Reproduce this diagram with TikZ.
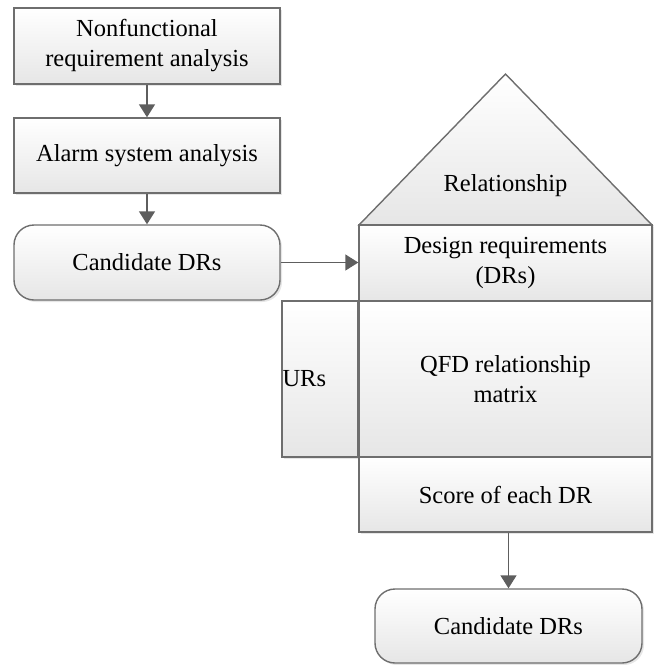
\documentclass[tikz,border=0pt]{standalone}
\usepackage{fontspec}
\setmainfont{Liberation Serif}
\usetikzlibrary{arrows.meta,shadows}
\definecolor{edge}{HTML}{6E6E6E}
\definecolor{arrowc}{HTML}{5E5E5E}
\definecolor{fillbot}{HTML}{E6E6E6}
\begin{document}
\begin{tikzpicture}[x=1pt,y=-1pt,
  box/.style={draw=edge, line width=1.4pt, top color=white, bottom color=fillbot,
    align=center, inner sep=0pt, font=\fontsize{24.5}{30}\selectfont,
    drop shadow={opacity=0.2, shadow xshift=2pt, shadow yshift=-2pt}},
  rbox/.style={box, rounded corners=20pt},
  conn/.style={draw=arrowc, line width=1.4pt, -{Triangle[length=13pt,width=16pt]}}]
\useasboundingbox (0,0) rectangle (655,665);
% left flow
\node[box, minimum width=266pt, minimum height=76pt] (nfr) at (147,46) {Nonfunctional\\requirement analysis};
\node[box, minimum width=266pt, minimum height=75pt] (alarm) at (147,155.5) {Alarm system analysis};
\node[rbox, minimum width=266pt, minimum height=75pt] (cand1) at (147,262.5) {Candidate DRs};
% house
\filldraw[draw=edge, line width=1.4pt, top color=white, bottom color=fillbot,
  drop shadow={opacity=0.2, shadow xshift=2pt, shadow yshift=-2pt}]
  (359,225) -- (505.5,74) -- (652,225) -- cycle;
\node[font=\fontsize{24.5}{30}\selectfont] (rel) at (505.5,186) {Relationship};
\node[box, minimum width=293pt, minimum height=76pt] (dr) at (505.5,263) {Design requirements\\(DRs)};
\node[box, minimum width=76pt, minimum height=156pt] (urs) at (320,379) {};
\node[font=\fontsize{24.5}{30}\selectfont, anchor=west, inner sep=1pt] (urstext) at (urs.west) {URs};
\node[box, minimum width=293pt, minimum height=156pt] (qfd) at (505.5,379) {QFD relationship\\matrix};
\node[box, minimum width=293pt, minimum height=75pt] (score) at (505.5,494.5) {Score of each DR};
\node[rbox, minimum width=267pt, minimum height=74pt] (cand2) at (508.5,626) {Candidate DRs};
% connectors
\draw[conn] (nfr.south) -- (alarm.north);
\draw[conn] (alarm.south) -- (cand1.north);
\draw[conn] (cand1.east) -- (cand1.east -| dr.west);
\draw[conn] (score.south -| cand2.north) -- (cand2.north);
\end{tikzpicture}
\end{document}
